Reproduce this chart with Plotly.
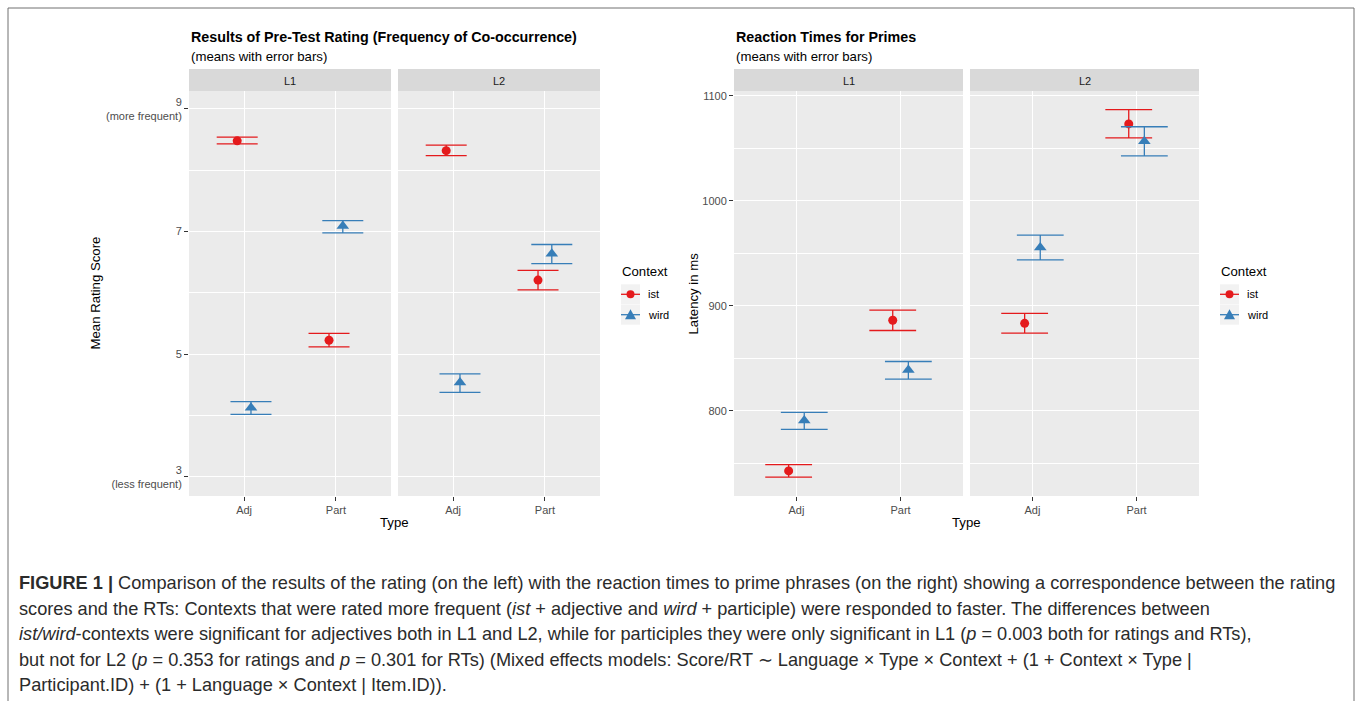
import plotly.graph_objects as go

W, H = 1358, 701

# ---------------- data ----------------
types = ["Adj", "Part"]
languages = ["L1", "L2"]
contexts = ["ist", "wird"]

# Pre-test rating, order per context: L1-Adj, L1-Part, L2-Adj, L2-Part
rating_ist_mean = [8.48, 5.23, 8.32, 6.21]
rating_ist_low = [8.43, 5.12, 8.24, 6.05]
rating_ist_high = [8.54, 5.34, 8.41, 6.37]
rating_wird_mean = [4.13, 7.09, 4.54, 6.64]
rating_wird_low = [4.02, 6.98, 4.38, 6.48]
rating_wird_high = [4.23, 7.18, 4.68, 6.79]

# Reaction times (ms), same order
rt_ist_mean = [743.0, 886.3, 883.4, 1073.2]
rt_ist_low = [737.0, 876.6, 874.0, 1059.8]
rt_ist_high = [749.0, 896.0, 892.8, 1086.7]
rt_wird_mean = [791.0, 839.0, 955.5, 1056.6]
rt_wird_low = [782.5, 830.4, 943.8, 1042.7]
rt_wird_high = [798.7, 847.1, 967.3, 1070.5]

rating_ticks = [3, 5, 7, 9]
rating_ticktext = ["3<br>(less frequent)", "5", "7", "9<br>(more frequent)"]
rating_minor = [4, 6, 8]
rt_ticks = [800, 900, 1000, 1100]
rt_minor = [750, 850, 950, 1050]

colors = {"ist": "#E41A1C", "wird": "#377EB8"}
symbols = {"ist": "circle", "wird": "triangle-up"}
msize = {"ist": 9, "wird": 11}

FONT = "Liberation Sans, Arial, sans-serif"


def fx(px):
    return px / W


def fy(py):
    return 1 - py / H


fig = go.Figure()

panels = {
    # name: (x-axis id, y-axis id, px left, px right)
    "rating_L1": ("x", "y", 189, 391),
    "rating_L2": ("x2", "y2", 398, 600),
    "rt_L1": ("x3", "y3", 734, 963),
    "rt_L2": ("x4", "y4", 970, 1199),
}

dodge = {"ist": -0.075, "wird": 0.075}


def add_series(chart, ctx, means, lows, highs, cap):
    for li, lang in enumerate(languages):
        xa, ya, _, _ = panels[f"{chart}_{lang}"]
        sl = slice(li * 2, li * 2 + 2)
        m = means[sl]
        lo = lows[sl]
        hi = highs[sl]
        xs = [i + 1 + dodge[ctx] for i in range(len(types))]
        fig.add_trace(go.Scatter(
            x=xs, y=m, xaxis=xa, yaxis=ya, mode="markers",
            marker=dict(symbol=symbols[ctx], size=msize[ctx], color=colors[ctx]),
            error_y=dict(type="data", symmetric=False,
                         array=[h - v for h, v in zip(hi, m)],
                         arrayminus=[v - l for v, l in zip(m, lo)],
                         color=colors[ctx], thickness=1.3, width=cap),
            showlegend=False, name=ctx, hoverinfo="skip"))


add_series("rating", "ist", rating_ist_mean, rating_ist_low, rating_ist_high, 20.5)
add_series("rating", "wird", rating_wird_mean, rating_wird_low, rating_wird_high, 20.5)
add_series("rt", "ist", rt_ist_mean, rt_ist_low, rt_ist_high, 23.4)
add_series("rt", "wird", rt_wird_mean, rt_wird_low, rt_wird_high, 23.4)

tickfont = dict(family=FONT, size=11, color="#4D4D4D")
common_x = dict(range=[0.4, 2.6], tickmode="array", tickvals=[1, 2], ticktext=types,
                showgrid=True, gridcolor="white", gridwidth=1.1, zeroline=False,
                ticks="outside", ticklen=4, tickcolor="#333333", tickwidth=1,
                tickfont=tickfont, showline=False, fixedrange=True)
ydom = [fy(496), fy(91)]
layout_axes = {}
for key, (xa, ya, l, r) in panels.items():
    xname = "xaxis" + ("" if xa == "x" else xa[1:])
    yname = "yaxis" + ("" if ya == "y" else ya[1:])
    layout_axes[xname] = dict(common_x, domain=[fx(l), fx(r)], anchor=ya)
    is_rating = key.startswith("rating")
    first = key.endswith("L1")
    ycfg = dict(domain=ydom, anchor=xa, zeroline=False, showgrid=True,
                gridcolor="white", gridwidth=1.1, fixedrange=True,
                tickmode="array",
                tickvals=rating_ticks if is_rating else rt_ticks,
                minor=dict(tickmode="array",
                           tickvals=rating_minor if is_rating else rt_minor,
                           showgrid=True, gridcolor="white", gridwidth=0.55, ticks=""),
                range=[2.69, 9.293] if is_rating else [719.1, 1104.5])
    if first:
        ycfg.update(ticks="outside", ticklen=4, tickcolor="#333333", tickwidth=1,
                    tickfont=tickfont, showticklabels=True,
                    ticktext=rating_ticktext if is_rating else [str(t) for t in rt_ticks])
    else:
        ycfg.update(ticks="", showticklabels=False)
    layout_axes[yname] = ycfg

shapes = []
annotations = []

# strips
for key, (xa, ya, l, r) in panels.items():
    shapes.append(dict(type="rect", xref="paper", yref="paper", x0=fx(l), x1=fx(r),
                       y0=fy(91), y1=fy(69), fillcolor="#D9D9D9", line=dict(width=0),
                       layer="below"))
    annotations.append(dict(text=key.split("_")[1], xref="paper", yref="paper",
                            x=fx((l + r) / 2), y=fy(80.5), showarrow=False,
                            xanchor="center", yanchor="middle",
                            font=dict(family=FONT, size=11, color="#1A1A1A")))


def txt(text, x, y, size, color="#000000", xanchor="left", textangle=0, bold=False):
    annotations.append(dict(text=(f"<b>{text}</b>" if bold else text), xref="paper", yref="paper",
                            x=fx(x), y=fy(y), showarrow=False, xanchor=xanchor,
                            yanchor="middle", textangle=textangle,
                            font=dict(family=FONT, size=size, color=color)))


# titles
txt("Results of Pre-Test Rating (Frequency of Co-occurrence)", 189, 37, 14.3, bold=True)
txt("(means with error bars)", 189, 57, 13.2)
txt("Reaction Times for Primes", 734, 37, 14.3, bold=True)
txt("(means with error bars)", 734, 57, 13.2)

# axis titles
txt("Mean Rating Score", 95, 293.5, 13.2, xanchor="center", textangle=-90)
txt("Type", 394.5, 522.5, 13.2, xanchor="center")
txt("Latency in ms", 693, 293.5, 13.2, xanchor="center", textangle=-90)
txt("Type", 966.5, 522.5, 13.2, xanchor="center")

# legends
for lx in (620, 1219):
    txt("Context", lx, 271, 13.2)
    for i, ctx in enumerate(contexts):
        cy = 294.3 + i * 20.4
        shapes.append(dict(type="rect", xref="paper", yref="paper",
                           x0=fx(lx + 1), x1=fx(lx + 20), y0=fy(cy + 10), y1=fy(cy - 10),
                           fillcolor="#F2F2F2", line=dict(width=0)))
        shapes.append(dict(type="line", xref="paper", yref="paper",
                           x0=fx(lx + 1), x1=fx(lx + 20), y0=fy(cy), y1=fy(cy),
                           line=dict(color=colors[ctx], width=1.3)))
        mx = lx + 10.5
        if ctx == "ist":
            r = 4.0
            shapes.append(dict(type="circle", xref="paper", yref="paper",
                               x0=fx(mx - r), x1=fx(mx + r), y0=fy(cy + r), y1=fy(cy - r),
                               fillcolor=colors[ctx], line=dict(width=0)))
        else:
            path = (f"M {fx(mx - 5.5)} {fy(cy + 4.5)} L {fx(mx + 5.5)} {fy(cy + 4.5)} "
                    f"L {fx(mx)} {fy(cy - 5.5)} Z")
            shapes.append(dict(type="path", xref="paper", yref="paper", path=path,
                               fillcolor=colors[ctx], line=dict(width=0)))
        txt(ctx, lx + 26, cy, 11, color="#000000")

# outer frame
shapes.append(dict(type="rect", xref="paper", yref="paper", x0=fx(8), x1=fx(1354),
                   y0=fy(712), y1=fy(8), line=dict(color="#707070", width=1),
                   fillcolor="rgba(0,0,0,0)"))

# caption
caption_lines = [
    "<b>FIGURE 1 |</b> Comparison of the results of the rating (on the left) with the reaction times to prime phrases (on the right) showing a correspondence between the rating",
    "scores and the RTs: Contexts that were rated more frequent (<i>ist</i> + adjective and <i>wird</i> + participle) were responded to faster. The differences between",
    "<i>ist/wird</i>-contexts were significant for adjectives both in L1 and L2, while for participles they were only significant in L1 (<i>p</i> = 0.003 both for ratings and RTs),",
    "but not for L2 (<i>p</i> = 0.353 for ratings and <i>p</i> = 0.301 for RTs) (Mixed effects models: Score/RT ∼ Language × Type × Context + (1 + Context × Type |",
    "Participant.ID) + (1 + Language × Context | Item.ID)).",
]
for i, line in enumerate(caption_lines):
    txt(line, 17, 583 + i * 25.5, 18.2, color="#2B2B2B")

fig.update_layout(
    width=W, height=H, margin=dict(l=0, r=0, t=0, b=0),
    paper_bgcolor="white", plot_bgcolor="#EBEBEB",
    showlegend=False, shapes=shapes, annotations=annotations,
    font=dict(family=FONT),
    **layout_axes,
)

fig.write_html("out.html", config={"displayModeBar": False},
               post_script="document.body.style.margin='0px';document.body.style.overflow='hidden';")
